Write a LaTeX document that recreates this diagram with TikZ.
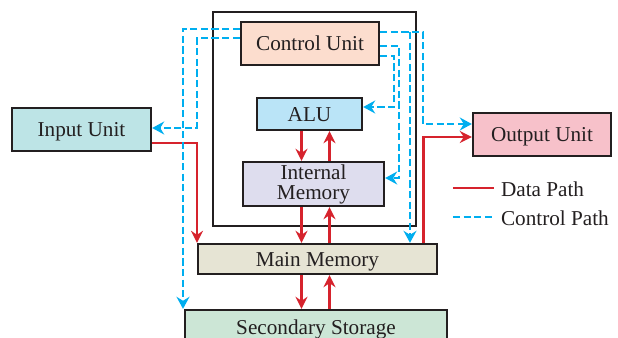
\documentclass[tikz,border=0pt]{standalone}
\usepackage{fontspec}
\setmainfont{Liberation Serif}
\usetikzlibrary{arrows.meta}

\definecolor{boxline}{RGB}{35,31,32}
\definecolor{datared}{RGB}{214,35,45}
\definecolor{ctrlblue}{RGB}{0,174,239}
\definecolor{cufill}{RGB}{252,221,206}
\definecolor{alufill}{RGB}{186,228,247}
\definecolor{imfill}{RGB}{222,221,238}
\definecolor{mmfill}{RGB}{230,228,212}
\definecolor{ssfill}{RGB}{204,230,214}
\definecolor{infill}{RGB}{189,228,230}
\definecolor{outfill}{RGB}{247,193,202}

\begin{document}
\begin{tikzpicture}[x=0.5pt, y=-0.5pt,
    unitbox/.style={draw=boxline, line width=1.2pt, text=boxline, inner sep=0pt,
        font=\fontsize{10.6}{10}\selectfont},
    oneline/.style={unitbox, text height=7pt, text depth=0pt},
    datapath/.style={draw=datared, line width=1.1pt,
        -{Stealth[length=6pt, width=6pt, inset=2pt]}},
    ctrlpath/.style={draw=ctrlblue, line width=1.1pt, dash pattern=on 3.6pt off 1.7pt,
        -{Stealth[length=6pt, width=6.5pt, inset=2pt]}},
    legtext/.style={anchor=west, text=boxline, text height=7pt, text depth=0pt,
        font=\fontsize{10.6}{10}\selectfont}]

    \useasboundingbox (0,0) rectangle (618,338);
    \clip (0,0) rectangle (618,338);

    % processor frame
    \node[unitbox, minimum width=101.5pt, minimum height=107pt] (cpu) at (314.5,119) {};

    \node[oneline, fill=cufill, minimum width=69pt, minimum height=21.5pt] (cu) at (310,43.5) {Control Unit};
    \node[oneline, fill=alufill, minimum width=52.5pt, minimum height=16pt] (alu) at (309.5,114) {ALU};
    \node[unitbox, fill=imfill, minimum width=70.5pt, minimum height=22pt, align=center] (im) at (313.5,184) {Internal\\Memory};
    \node[oneline, fill=mmfill, minimum width=119.5pt, minimum height=15pt] (mm) at (317.5,259) {Main Memory};
    \node[oneline, fill=ssfill, minimum width=131pt, minimum height=17pt] (ss) at (316,327) {Secondary Storage};
    \node[oneline, fill=infill, minimum width=69.5pt, minimum height=21.5pt] (inp) at (81.5,129.5) {Input Unit};
    \node[oneline, fill=outfill, minimum width=69pt, minimum height=21.5pt] (outp) at (542,134.5) {Output Unit};

    % lanes
    \coordinate (dn) at (301.5,0);
    \coordinate (up) at (329.5,0);
    \coordinate (inlane) at (197,0);
    \coordinate (outlane) at (423.5,0);

    % data path
    \draw[datapath] (dn |- alu.south) -- (dn |- im.north);
    \draw[datapath] (up |- im.north) -- (up |- alu.south);
    \draw[datapath] (dn |- im.south) -- (dn |- mm.north);
    \draw[datapath] (up |- mm.north) -- (up |- im.south);
    \draw[datapath] (dn |- mm.south) -- (dn |- ss.north);
    \draw[datapath] (up |- ss.north) -- (up |- mm.south);
    \draw[datapath] ([yshift=-6.75pt]inp.east) -| (inlane |- mm.north);
    \draw[datapath] (outlane |- mm.north) |- ([yshift=-1.25pt]outp.west);

    % control path
    \coordinate (cl1) at (183,0);
    \coordinate (cl2) at (197,128);
    \coordinate (cr1) at (423,124);
    \coordinate (cr2) at (410,32);
    \coordinate (cr3) at (399,178);
    \coordinate (cr4) at (394,107);

    \draw[ctrlpath] ([yshift=7.25pt]cu.west) -| (cl1 |- ss.north);
    \draw[ctrlpath] ([yshift=2.75pt]cu.west) -| (cl2) -- (cl2 -| inp.east);
    \draw[ctrlpath] ([yshift=5.75pt]cu.east) -| (cr1) -- (cr1 -| outp.west);
    \draw[ctrlpath] (cr2) -- (cr2 |- mm.north);
    \draw[ctrlpath] ([yshift=-1.25pt]cu.east) -| (cr3) -- (cr3 -| im.east);
    \draw[ctrlpath] ([yshift=-6.25pt]cu.east) -| (cr4) -- (cr4 -| alu.east);

    % legend
    \node[legtext] (ldata) at (494,189) {Data Path};
    \node[legtext] (lctrl) at (494,218) {Control Path};
    \coordinate (ld) at (453,188);
    \coordinate (lc) at (453,217);
    \draw[datared, line width=1.1pt] (ld) -- (ld -| ldata.west);
    \draw[ctrlblue, line width=1.1pt, dash pattern=on 3.6pt off 1.7pt] (lc) -- (lc -| lctrl.west);

\end{tikzpicture}
\end{document}
